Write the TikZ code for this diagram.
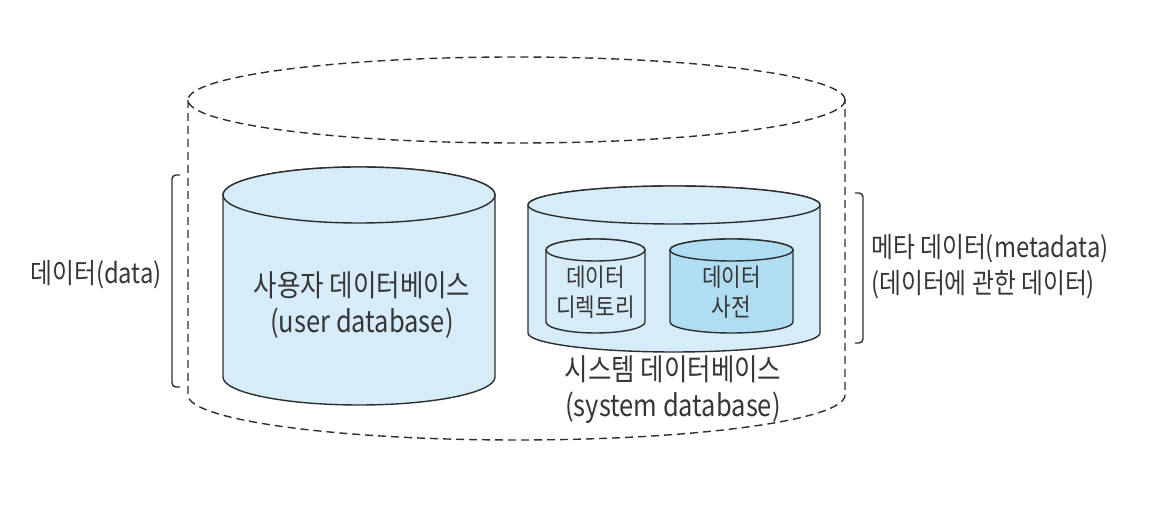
\documentclass[tikz,border=0pt]{standalone}
\usepackage{fontspec}
\setmainfont{Noto Sans CJK KR}[FakeStretch=0.85]
\definecolor{linec}{HTML}{2E2E2E}
\definecolor{txtc}{HTML}{363636}
\definecolor{cylfill}{HTML}{D6EDF9}
\definecolor{dictfill}{HTML}{B0DDF2}
\tikzset{
  cyl/.style={draw=linec, line width=1.4pt, fill=#1},
  outerdash/.style={draw=linec, line width=1.4pt, dash pattern=on 8pt off 5pt},
  brk/.style={draw=linec, line width=1.4pt, rounded corners=4pt},
  lbl/.style={text=txtc, font=\fontsize{28}{36}\selectfont, align=center, inner sep=0pt},
  dblbl/.style={text=txtc, font=\fontsize{30}{36}\selectfont, align=center, inner sep=0pt},
  slbl/.style={text=txtc, font=\fontsize{25}{30}\selectfont, align=center, inner sep=0pt}
}
\newcommand\mycyl[6]{%
  \filldraw[cyl=#6] (#1-#2,#3) -- (#1-#2,#4)
    arc[start angle=180,end angle=360,x radius=#2pt,y radius=#5pt]
    -- (#1+#2,#3)
    arc[start angle=0,end angle=180,x radius=#2pt,y radius=#5pt] -- cycle;
  \draw[cyl=#6] (#1,#3) ellipse[x radius=#2pt,y radius=#5pt];
}
\begin{document}
\begin{tikzpicture}[x=1pt,y=1pt]
\useasboundingbox (0,0) rectangle (1171,513);
% outer dashed cylinder
\draw[outerdash] (516.5,413) ellipse[x radius=328.5pt,y radius=43pt];
\draw[outerdash] (188,413) -- (188,118)
  arc[start angle=180,end angle=360,x radius=328.5pt,y radius=45pt] -- (845,413);
% user database
\mycyl{359}{136}{318}{136}{28}{cylfill}
\node[dblbl] (user) at (362,208) {사용자 데이터베이스\\(user database)};
% system database
\mycyl{674}{146}{308}{180}{19}{cylfill}
\mycyl{595.5}{49.5}{263}{191}{11}{cylfill}
\mycyl{731.5}{61.5}{263}{191}{11}{dictfill}
\node[slbl] (dir) at (595.5,221) {데이터\\디렉토리};
\node[slbl] (dict) at (731.5,221) {데이터\\사전};
\node[dblbl] (sys) at (673,123) {시스템 데이터베이스\\(system database)};
% brackets
\draw[brk] (180,338) -- (172,338) -- (172,126) -- (180,126);
\draw[brk] (855,320) -- (863,320) -- (863,170) -- (855,170);
\node[lbl, anchor=east] (data) at (162,238) {데이터(data)};
\node[lbl, anchor=west, align=left] (meta) at (871,246.5) {메타 데이터(metadata)\\(데이터에 관한 데이터)};
\end{tikzpicture}
\end{document}
